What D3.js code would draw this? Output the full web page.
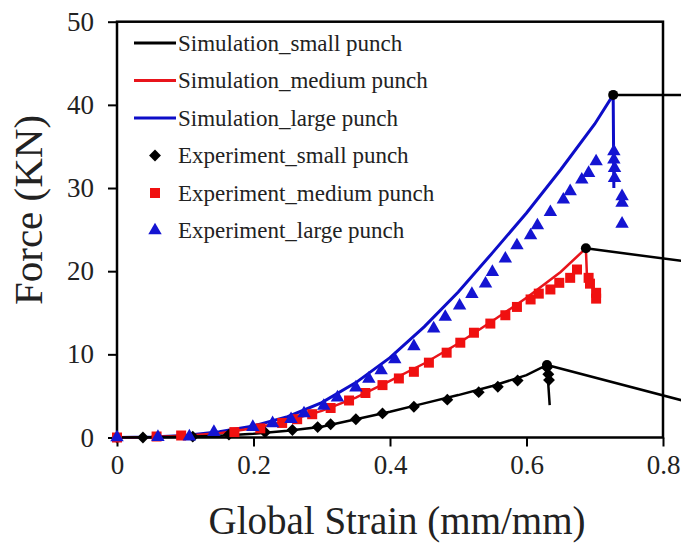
<!DOCTYPE html>
<html><head><meta charset="utf-8">
<script src="https://cdn.jsdelivr.net/npm/d3@7"></script>
<style>html,body{margin:0;padding:0;background:#fff;}svg{display:block;}</style>
</head><body><svg id="c" width="681" height="547"></svg>
<script>
// ---------- data ----------
const xTicks = [0, 0.2, 0.4, 0.6, 0.8];
const yTicks = [0, 10, 20, 30, 40, 50];

const simSmallStrain = [0, 0.05, 0.1, 0.15, 0.2, 0.25, 0.3, 0.35, 0.4, 0.45, 0.5, 0.55, 0.6, 0.63, 0.634];
const simSmallForce  = [0, 0.02, 0.08, 0.2, 0.45, 0.8, 1.3, 2.2, 3.1, 4.1, 5.1, 6.2, 7.5, 8.72, 3.9];

const simMediumStrain = [0, 0.05, 0.1, 0.15, 0.2, 0.25, 0.3, 0.35, 0.4, 0.45, 0.5, 0.55, 0.6, 0.65, 0.687, 0.689];
const simMediumForce  = [0, 0.05, 0.2, 0.5, 1.1, 2.0, 3.2, 4.8, 6.8, 8.9, 11.3, 14.0, 16.8, 19.9, 22.75, 18.5];

const simLargeStrain = [0, 0.05, 0.1, 0.15, 0.2, 0.25, 0.3, 0.35, 0.4, 0.45, 0.5, 0.55, 0.6, 0.65, 0.7, 0.727, 0.728];
const simLargeForce  = [0, 0.05, 0.25, 0.7, 1.4, 2.5, 4.2, 6.6, 9.6, 13.3, 17.5, 22.2, 27.0, 32.2, 37.7, 41.2, 30.0];

const expSmallStrain = [0, 0.038, 0.111, 0.164, 0.217, 0.257, 0.294, 0.313, 0.35, 0.389, 0.435, 0.484, 0.530, 0.558, 0.587, 0.630, 0.632, 0.633];
const expSmallForce  = [0, 0, 0.1, 0.35, 0.62, 0.9, 1.25, 1.6, 2.2, 2.9, 3.7, 4.55, 5.45, 6.1, 6.85, 8.4, 7.6, 6.9];

const expMediumStrain = [0, 0.058, 0.094, 0.172, 0.21, 0.242, 0.264, 0.286, 0.313, 0.34, 0.364, 0.389, 0.413, 0.435, 0.457, 0.483, 0.503, 0.523, 0.547, 0.569, 0.586, 0.606, 0.618, 0.635, 0.648, 0.664, 0.674, 0.691, 0.693, 0.702, 0.702];
const expMediumForce  = [0, 0.12, 0.24, 0.65, 1.1, 1.75, 2.2, 2.8, 3.55, 4.45, 5.35, 6.3, 7.1, 7.9, 9.0, 10.2, 11.4, 12.6, 13.7, 14.7, 15.7, 16.6, 17.3, 17.8, 18.6, 19.2, 20.2, 19.2, 18.5, 17.4, 16.7];

const expLargeStrain = [0, 0.06, 0.106, 0.142, 0.199, 0.228, 0.255, 0.274, 0.303, 0.323, 0.35, 0.369, 0.387, 0.407, 0.435, 0.464, 0.481, 0.502, 0.52, 0.54, 0.55, 0.569, 0.586, 0.606, 0.616, 0.635, 0.654, 0.664, 0.681, 0.691, 0.702, 0.728, 0.728, 0.729, 0.729, 0.74, 0.74, 0.74];
const expLargeForce  = [0, 0.05, 0.12, 0.65, 1.25, 1.7, 2.2, 2.9, 3.8, 4.8, 6.0, 7.05, 8.07, 9.4, 10.96, 13.1, 14.5, 15.85, 17.25, 18.5, 19.9, 21.5, 23.1, 24.3, 25.5, 27.1, 28.6, 29.6, 31.0, 31.8, 33.2, 34.4, 33.4, 32.4, 31.2, 29.0, 28.2, 25.7];

// callout leader lines: from peak to beyond the right edge
const calloutStartStrain = [0.727, 0.687, 0.630];
const calloutStartForce  = [41.2, 22.75, 8.72];
const calloutEndStrain   = [0.84, 0.84, 0.84];
const calloutEndForce    = [41.2, 21.1, 4.2];

const legendLabels = ["Simulation_small punch", "Simulation_medium punch", "Simulation_large punch",
                      "Experiment_small punch", "Experiment_medium punch", "Experiment_large punch"];

// ---------- drawing ----------
const BLACK = "#000000", RED = "#e8141b", BLUE = "#0d0dc8";
const svg = d3.select("#c");
const x = d3.scaleLinear().domain([0, 0.8]).range([117, 663]);
const y = d3.scaleLinear().domain([0, 50]).range([437.5, 21.7]);
const serif = "'Liberation Serif','Times New Roman',serif";

const zip = (a, b) => a.map((v, i) => [v, b[i]]);
const line = d3.line().x(d => x(d[0])).y(d => y(d[1]));

// axes
const xAxis = svg.append("g").attr("transform", `translate(0,${y(0)})`)
  .call(d3.axisBottom(x).tickValues(xTicks).tickSize(9).tickPadding(8)
        .tickFormat(d => d === 0 ? "0" : d3.format(".1f")(d)));
const yAxis = svg.append("g").attr("transform", `translate(${x(0)},0)`)
  .call(d3.axisLeft(y).tickValues(yTicks).tickSize(9).tickPadding(14).tickFormat(d3.format("d")));
[xAxis, yAxis].forEach(g => {
  g.select(".domain").remove();
  g.selectAll(".tick line").attr("stroke", BLACK).attr("stroke-width", 2);
  g.selectAll(".tick text").attr("font-family", serif).attr("font-size", 27).attr("fill", "#222");
});

// frame
svg.append("rect").attr("x", x(0)).attr("y", y(50)).attr("width", x(0.8) - x(0)).attr("height", y(0) - y(50))
  .attr("fill", "none").attr("stroke", BLACK).attr("stroke-width", 2.5);

// simulation lines
svg.append("path").datum(zip(simLargeStrain, simLargeForce)).attr("d", line)
  .attr("fill", "none").attr("stroke", BLUE).attr("stroke-width", 3);
svg.append("path").datum(zip(simMediumStrain, simMediumForce)).attr("d", line)
  .attr("fill", "none").attr("stroke", RED).attr("stroke-width", 2.5);
svg.append("path").datum(zip(simSmallStrain, simSmallForce)).attr("d", line)
  .attr("fill", "none").attr("stroke", BLACK).attr("stroke-width", 2.5);

// markers
const diamond = d3.symbol().type(d3.symbolDiamond2).size(90);
const square = d3.symbol().type(d3.symbolSquare).size(100);
const triangle = d3.symbol().type(d3.symbolTriangle).size(78);

function markers(sx, sf, sym, col) {
  svg.append("g").selectAll("path").data(zip(sx, sf)).join("path")
    .attr("transform", d => `translate(${x(d[0])},${y(d[1])})`)
    .attr("d", sym).attr("fill", col);
}
markers(expSmallStrain, expSmallForce, diamond, BLACK);
markers(expMediumStrain, expMediumForce, square, "#f01010");
markers(expLargeStrain, expLargeForce, triangle, "#1414d2");

// callouts
calloutStartStrain.forEach((s, i) => {
  svg.append("line").attr("x1", x(s)).attr("y1", y(calloutStartForce[i]))
    .attr("x2", x(calloutEndStrain[i])).attr("y2", y(calloutEndForce[i]))
    .attr("stroke", BLACK).attr("stroke-width", 2.5);
  svg.append("circle").attr("cx", x(s)).attr("cy", y(calloutStartForce[i])).attr("r", 5).attr("fill", BLACK);
});

// legend
const legY0 = 43, legDy = 37.5;
const legColors = [BLACK, RED, BLUE, BLACK, "#f01010", "#1414d2"];
const legSyms = [null, null, null, diamond, square, triangle];
legendLabels.forEach((lab, i) => {
  const yy = legY0 + i * legDy;
  if (i < 3) {
    svg.append("line").attr("x1", 134).attr("x2", 176).attr("y1", yy).attr("y2", yy)
      .attr("stroke", legColors[i]).attr("stroke-width", 3);
  } else {
    svg.append("path").attr("transform", `translate(155,${yy})`).attr("d", legSyms[i]).attr("fill", legColors[i]);
  }
  svg.append("text").attr("x", 178).attr("y", yy).attr("dy", "0.34em")
    .attr("font-family", serif).attr("font-size", 23).attr("fill", "#222").text(lab);
});

// axis titles
svg.append("text").attr("x", 397).attr("y", 534).attr("text-anchor", "middle")
  .attr("font-family", serif).attr("font-size", 39).attr("fill", "#222").text("Global Strain (mm/mm)");
svg.append("text").attr("transform", "translate(42,210) rotate(-90)").attr("text-anchor", "middle")
  .attr("font-family", serif).attr("font-size", 41).attr("fill", "#222").text("Force (KN)");
</script></body></html>
